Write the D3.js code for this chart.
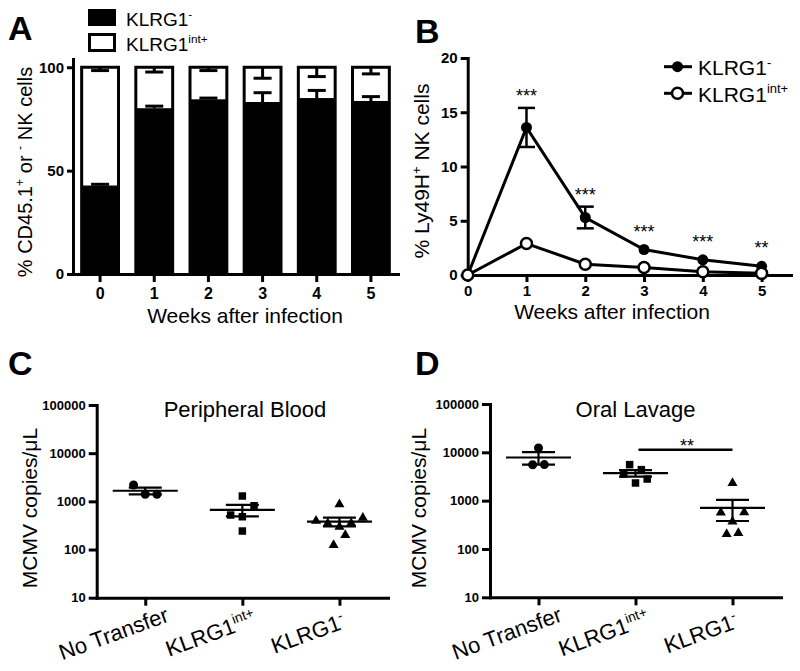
<!DOCTYPE html>
<html><head><meta charset="utf-8">
<script src="https://cdn.jsdelivr.net/npm/d3@7"></script>
<style>body{margin:0;background:#fff}svg{display:block}</style>
</head><body><svg id="c" width="800" height="671"></svg>
<script>
// ---------- DATA ----------
const weeks = [0, 1, 2, 3, 4, 5];
// Panel A: % of CD45.1+/- NK cells (stacked, KLRG1- bottom, KLRG1int+ top to 100)
const barNegMean = [42.8, 80.2, 84.5, 83.2, 85.1, 83.7];
const barNegSem  = [0.6, 1.0, 0.6, 4.5, 3.7, 2.1];
const barIntSem  = [1.6, 2.3, 1.6, 5.3, 4.5, 3.2];
// Panel B: % Ly49H+ NK cells
const lineNegMean = [0, 13.6, 5.3, 2.35, 1.4, 0.8];
const lineNegSem  = [0, 1.8, 1.0, 0.15, 0.12, 0.1];
const lineIntMean = [0, 2.9, 1.0, 0.7, 0.3, 0.15];
const sigB = ["", "***", "***", "***", "***", "**"];
// Panels C/D: MCMV copies/uL
const groupMain = ["No Transfer", "KLRG1", "KLRG1"];
const groupSup  = ["", "int+", "-"];
const bloodNoTransfer = [2180, 1400, 1400];
const bloodInt = [1290, 520, 479, 811, 242];
const bloodNeg = [867, 396, 350, 297, 352, 457, 124, 200];
const lavageNoTransfer = [12300, 5540, 5580];
const lavageInt = [5560, 4380, 3560, 2320, 2800];
const lavageNeg = [2320, 569, 370, 575, 203, 213];
const sigD = "**";
const logTicks = [10, 100, 1000, 10000, 100000];
const barTicks = [0, 50, 100];
const lineTicks = [0, 5, 10, 15, 20];

// ---------- HELPERS ----------
const FONT = "'Liberation Sans', Arial, Helvetica, sans-serif";
const svg = d3.select("#c").style("font-family", FONT);

function rich(sel, parts, fs) {
  let shifted = false;
  parts.forEach(([t, sup]) => {
    const ts = sel.append("tspan").text(t);
    if (sup) { ts.attr("font-size", fs * 0.62).attr("dy", shifted ? 0 : -fs * 0.4); shifted = true; }
    else { ts.attr("font-size", fs); if (shifted) { ts.attr("dy", fs * 0.4); shifted = false; } }
  });
}
function styleAxis(g, fs) {
  g.attr("font-family", FONT).attr("font-size", fs);
  g.select(".domain").attr("stroke", "#000").attr("stroke-width", 3).attr("stroke-linecap", "square");
  g.selectAll(".tick line").attr("stroke", "#000").attr("stroke-width", 3);
  g.selectAll(".tick text").attr("fill", "#000").attr("font-weight", "bold").attr("font-size", fs);
}
function letter(t, x, y) {
  svg.append("text").attr("x", x).attr("y", y).attr("font-size", 34).attr("font-weight", "bold").text(t);
}
function yLabel(parts, x, y, fs) {
  const t = svg.append("text").attr("transform", `translate(${x},${y}) rotate(-90)`)
    .attr("text-anchor", "middle").attr("font-size", fs);
  rich(t, parts, fs);
}

// ---------- PANEL A ----------
(function () {
  const x = d3.scaleBand().domain(weeks).range([73, 398]).paddingInner(0.32).paddingOuter(0.16);
  const y = d3.scaleLinear().domain([0, 104]).range([274, 59]);
  const bw = x.bandwidth();
  const g = svg.append("g");
  weeks.forEach((w, i) => {
    const x0 = x(w), xc = x0 + bw / 2;
    g.append("rect").attr("x", x0).attr("y", y(100)).attr("width", bw).attr("height", y(barNegMean[i]) - y(100))
      .attr("fill", "#fff");
    g.append("rect").attr("x", x0).attr("y", y(barNegMean[i])).attr("width", bw).attr("height", y(0) - y(barNegMean[i]))
      .attr("fill", "#000");
    g.append("rect").attr("x", x0).attr("y", y(100)).attr("width", bw).attr("height", y(0) - y(100))
      .attr("fill", "none").attr("stroke", "#000").attr("stroke-width", 3);
    // error bars
    const up = barNegMean[i] + barNegSem[i];
    g.append("line").attr("x1", xc).attr("x2", xc).attr("y1", y(barNegMean[i])).attr("y2", y(up)).attr("stroke", "#000").attr("stroke-width", 3);
    g.append("line").attr("x1", xc - 9).attr("x2", xc + 9).attr("y1", y(up)).attr("y2", y(up)).attr("stroke", "#000").attr("stroke-width", 3);
    const dn = 100 - barIntSem[i];
    g.append("line").attr("x1", xc).attr("x2", xc).attr("y1", y(100)).attr("y2", y(dn)).attr("stroke", "#000").attr("stroke-width", 3);
    g.append("line").attr("x1", xc - 9).attr("x2", xc + 9).attr("y1", y(dn)).attr("y2", y(dn)).attr("stroke", "#000").attr("stroke-width", 3);
  });
  const ya = svg.append("g").attr("transform", "translate(73,0)")
    .call(d3.axisLeft(y).tickValues(barTicks).tickSize(6).tickPadding(3).tickSizeOuter(0));
  styleAxis(ya, 15);
  const xa = svg.append("g").attr("transform", "translate(0,274)")
    .call(d3.axisBottom(x).tickSize(8).tickPadding(6).tickSizeOuter(0));
  styleAxis(xa, 16);
  svg.append("text").attr("x", 245).attr("y", 322.5).attr("text-anchor", "middle").attr("font-size", 21).text("Weeks after infection");
  yLabel([["% CD45.1"], ["+", 1], [" or "], ["-", 1], [" NK cells"]], 32, 172, 20);
  // legend
  svg.append("rect").attr("x", 88).attr("y", 9).attr("width", 28).attr("height", 17).attr("fill", "#000");
  svg.append("rect").attr("x", 89.5).attr("y", 34.5).attr("width", 25).attr("height", 16).attr("fill", "#fff").attr("stroke", "#000").attr("stroke-width", 3);
  rich(svg.append("text").attr("x", 126).attr("y", 26), [["KLRG1"], ["-", 1]], 19);
  rich(svg.append("text").attr("x", 126).attr("y", 51), [["KLRG1"], ["int+", 1]], 19);
  letter("A", 8, 40);
})();

// ---------- PANEL B ----------
(function () {
  const x = d3.scaleLinear().domain([0, 5.5]).range([467.7, 791]);
  const y = d3.scaleLinear().domain([0, 20]).range([275, 58]);
  const ya = svg.append("g").attr("transform", "translate(467.7,0)")
    .call(d3.axisLeft(y).tickValues(lineTicks).tickSize(7).tickPadding(3).tickSizeOuter(0));
  styleAxis(ya, 15);
  const xa = svg.append("g").attr("transform", "translate(0,275)")
    .call(d3.axisBottom(x).tickValues(weeks).tickFormat(d3.format("d")).tickSize(7).tickPadding(3).tickSizeOuter(0));
  styleAxis(xa, 15);
  const line = d3.line().x((d, i) => x(weeks[i])).y(d => y(d));
  svg.append("path").attr("d", line(lineIntMean)).attr("fill", "none").attr("stroke", "#000").attr("stroke-width", 3);
  svg.append("path").attr("d", line(lineNegMean)).attr("fill", "none").attr("stroke", "#000").attr("stroke-width", 3);
  weeks.forEach((w, i) => {
    const xc = x(w);
    if (lineNegSem[i] > 0.3) {
      const a = y(lineNegMean[i] + lineNegSem[i]), b = y(lineNegMean[i] - lineNegSem[i]);
      svg.append("line").attr("x1", xc).attr("x2", xc).attr("y1", a).attr("y2", b).attr("stroke", "#000").attr("stroke-width", 2.5);
      [a, b].forEach(yy => svg.append("line").attr("x1", xc - 8.5).attr("x2", xc + 8.5).attr("y1", yy).attr("y2", yy).attr("stroke", "#000").attr("stroke-width", 2.5));
    }
  });
  weeks.forEach((w, i) => {
    svg.append("circle").attr("cx", x(w)).attr("cy", y(lineNegMean[i])).attr("r", 5.5).attr("fill", "#000");
  });
  weeks.forEach((w, i) => {
    svg.append("circle").attr("cx", x(w)).attr("cy", y(lineIntMean[i])).attr("r", 5.5).attr("fill", "#fff").attr("stroke", "#000").attr("stroke-width", 2.5);
  });
  weeks.forEach((w, i) => {
    if (!sigB[i]) return;
    const top = Math.min(y(lineNegMean[i] + lineNegSem[i]), y(lineNegMean[i]) - 6);
    svg.append("text").attr("x", x(w)).attr("y", top - 6).attr("text-anchor", "middle").attr("font-size", 18).text(sigB[i]);
  });
  svg.append("text").attr("x", 612).attr("y", 318.5).attr("text-anchor", "middle").attr("font-size", 21).text("Weeks after infection");
  yLabel([["% Ly49H"], ["+", 1], [" NK cells"]], 429, 171, 21);
  // legend
  svg.append("line").attr("x1", 664).attr("x2", 692).attr("y1", 66.7).attr("y2", 66.7).attr("stroke", "#000").attr("stroke-width", 3);
  svg.append("circle").attr("cx", 677.5).attr("cy", 66.7).attr("r", 5.5).attr("fill", "#000");
  svg.append("line").attr("x1", 664).attr("x2", 692).attr("y1", 93.3).attr("y2", 93.3).attr("stroke", "#000").attr("stroke-width", 3);
  svg.append("circle").attr("cx", 677.5).attr("cy", 93.3).attr("r", 5.5).attr("fill", "#fff").attr("stroke", "#000").attr("stroke-width", 2.5);
  rich(svg.append("text").attr("x", 698).attr("y", 75), [["KLRG1"], ["-", 1]], 21);
  rich(svg.append("text").attr("x", 698).attr("y", 101.5), [["KLRG1"], ["int+", 1]], 21);
  letter("B", 415, 43);
})();

// ---------- PANELS C / D ----------
function swarmOffsets(vals, y, thresh, spacing) {
  const idx = vals.map((v, i) => i).sort((a, b) => y(vals[b]) - y(vals[a]));
  const bins = []; let cur = null;
  idx.forEach(i => {
    const py = y(vals[i]);
    if (!cur || cur.start - py > thresh) { cur = { start: py, items: [] }; bins.push(cur); }
    cur.items.push(i);
  });
  const off = new Array(vals.length);
  bins.forEach(b => {
    b.items.sort((a, c) => a - c);
    const n = b.items.length;
    b.items.forEach((i, k) => off[i] = (k - (n - 1) / 2) * spacing);
  });
  return off;
}
function scatterPanel(opt) {
  const x = d3.scalePoint().domain([0, 1, 2]).range([opt.x0, opt.x1]).padding(0.5);
  const y = d3.scaleLog().domain([10, 100000]).range([opt.yb, opt.yt]);
  const ya = svg.append("g").attr("transform", `translate(${opt.x0},0)`)
    .call(d3.axisLeft(y).tickValues(logTicks).tickFormat(d3.format("d")).tickSize(8).tickPadding(3).tickSizeOuter(0));
  styleAxis(ya, 13);
  const xa = svg.append("g").attr("transform", `translate(0,${opt.yb})`)
    .call(d3.axisBottom(x).tickSize(8).tickFormat("").tickSizeOuter(0));
  styleAxis(xa, 13);
  const symbols = [d3.symbolCircle, d3.symbolSquare, d3.symbolTriangle];
  const sizes = [64, 56, 44];
  opt.series.forEach((vals, gi) => {
    const xc = x(gi);
    const off = swarmOffsets(vals, y, 11.5, 11.7);
    const m = d3.mean(vals), sem = d3.deviation(vals) / Math.sqrt(vals.length);
    vals.forEach((v, i) => {
      svg.append("path").attr("d", d3.symbol().type(symbols[gi]).size(sizes[gi])())
        .attr("transform", `translate(${xc + off[i]},${y(v)})`).attr("fill", "#000");
    });
    const sw = 2.2;
    svg.append("line").attr("x1", xc - 32.5).attr("x2", xc + 32.5).attr("y1", y(m)).attr("y2", y(m)).attr("stroke", "#000").attr("stroke-width", sw);
    svg.append("line").attr("x1", xc).attr("x2", xc).attr("y1", y(m + sem)).attr("y2", y(m - sem)).attr("stroke", "#000").attr("stroke-width", sw);
    [m + sem, m - sem].forEach(vv => svg.append("line").attr("x1", xc - 16.5).attr("x2", xc + 16.5).attr("y1", y(vv)).attr("y2", y(vv)).attr("stroke", "#000").attr("stroke-width", sw));
    const lab = svg.append("text").attr("text-anchor", "middle").attr("font-size", 22)
      .attr("transform", `translate(${xc - 29},${opt.yb + 43}) rotate(-20)`);
    rich(lab, groupSup[gi] ? [[groupMain[gi]], [groupSup[gi], 1]] : [[groupMain[gi]]], 22);
  });
  if (opt.sig) {
    const yy = y(d3.max(opt.series[1])) - 15;
    svg.append("line").attr("x1", x(1) + 3).attr("x2", x(2)).attr("y1", yy).attr("y2", yy).attr("stroke", "#000").attr("stroke-width", 2.5);
    svg.append("text").attr("x", (x(1) + x(2)) / 2 + 3).attr("y", yy + 2).attr("text-anchor", "middle").attr("font-size", 18).text(opt.sig);
  }
  svg.append("text").attr("x", opt.tx).attr("y", 417).attr("text-anchor", "middle").attr("font-size", 22).text(opt.title);
  yLabel([["MCMV copies/μL"]], opt.lx, 508, 21);
  letter(opt.letter, opt.letterX, 375);
}
scatterPanel({ x0: 96.7, x1: 388, yb: 597.7, yt: 405, series: [bloodNoTransfer, bloodInt, bloodNeg],
  title: "Peripheral Blood", tx: 245, lx: 37, letter: "C", letterX: 8 });
scatterPanel({ x0: 490, x1: 781, yb: 597.3, yt: 404, series: [lavageNoTransfer, lavageInt, lavageNeg],
  title: "Oral Lavage", tx: 635.5, lx: 425.5, letter: "D", letterX: 415, sig: sigD });
</script></body></html>
